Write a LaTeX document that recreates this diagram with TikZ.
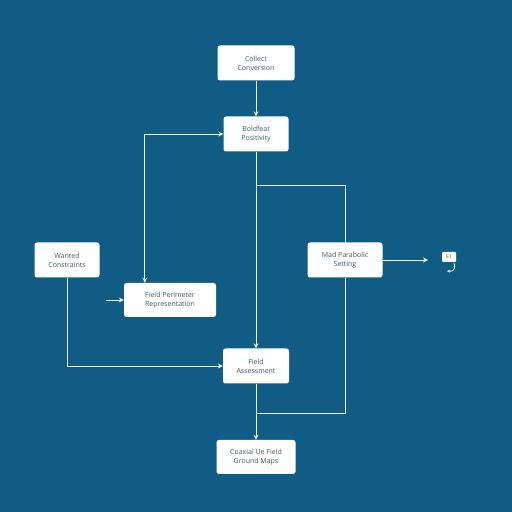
\documentclass[tikz,border=0pt]{standalone}
\usepackage{fontspec}
\setmainfont{Open Sans}
\usetikzlibrary{arrows.meta}
\definecolor{bgblue}{RGB}{16,92,132}
\definecolor{txtblue}{RGB}{60,90,110}
\begin{document}
\begin{tikzpicture}[x=1pt,y=1pt,
    box/.style={shape=rectangle,fill=white,rounded corners=2.5pt,text=txtblue,
        font=\fontsize{7}{9}\selectfont,align=center,inner sep=0pt},
    wire/.style={draw=white!92!bgblue,line width=0.9pt},
    tip/.style={-{Stealth[length=5pt,width=5pt]}}]
        \fill[bgblue] (0,0) rectangle (512,512);
        \useasboundingbox (0,0) rectangle (512,512);

        \node[box,minimum width=77,minimum height=35] (CC) at (256,449) {Collect\\Conversion};
        \node[box,minimum width=65,minimum height=35] (BP) at (256,378) {Boldfeat\\Positivity};
        \node[box,minimum width=65,minimum height=35] (WC) at (67,252) {Wanted\\Constraints};
        \node[box,minimum width=92,minimum height=34] (FPR) at (170,212) {Field Perimeter\\Representation};
        \node[box,minimum width=75,minimum height=35] (MPS) at (345,252) {Mad Parabolic\\Setting};
        \node[box,minimum width=66,minimum height=35] (FA) at (256,146) {Field\\Assessment};
        \node[box,minimum width=79,minimum height=34] (CFM) at (256,55) {Coaxial Ue Field\\Ground Maps};
        \node[box,rounded corners=1pt,minimum width=14,minimum height=10,
            font=\fontsize{5}{6}\selectfont] (E1) at (449,255) {E1};

        \coordinate (J1) at (256,327);
        \coordinate (J2) at (256,99);
        \coordinate (IN) at (106,212);
        \coordinate (OUT) at (428,252);

        \path [wire,tip](CC) edge (BP);
        \path [wire,tip](BP) edge (FA);
        \path [wire,tip](FA) edge (CFM);
        \draw [wire,{Stealth[length=5pt,width=5pt]}-{Stealth[length=5pt,width=5pt]}]
            ([xshift=21pt]FPR.north west) |- (BP.west);
        \draw [wire] (J1) -| (MPS.north);
        \draw [wire] (MPS.south) |- (J2);
        \draw [wire,tip] (WC.south) |- (FA.west);
        \draw [wire,tip] (IN) -- (FPR.west);
        \draw [wire,tip] (MPS.east) -- (OUT);
        \draw [wire,line width=0.9pt,-{Stealth[length=3pt,width=3pt]}]
            ([xshift=5pt,yshift=-1pt]E1.south) to[out=-60,in=0] ++(-3,-8) -- ++(-4,0);
    \end{tikzpicture}
\end{document}
